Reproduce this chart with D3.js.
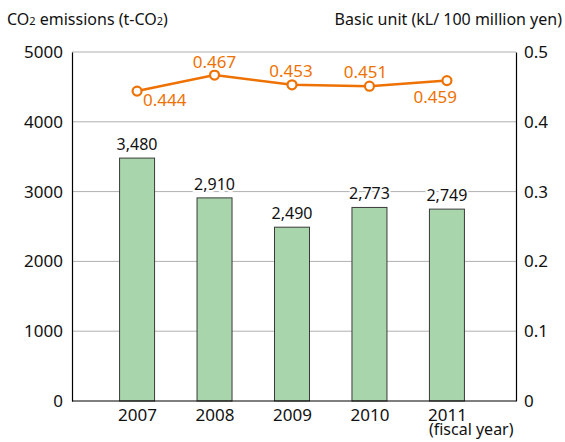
<!DOCTYPE html>
<html>
<head>
<meta charset="utf-8">
<script src="https://cdn.jsdelivr.net/npm/d3@7"></script>
<style>
  body { margin: 0; background: #fff; overflow: hidden; }
  svg { display: block; }
  text { font-family: "Noto Sans", "DejaVu Sans", sans-serif; }
</style>
</head>
<body>
<div id="chart"></div>
<script>
// data
const years = ['2007', '2008', '2009', '2010', '2011'];
const co2 = [3480, 2910, 2490, 2773, 2749];
const basicUnit = [0.444, 0.467, 0.453, 0.451, 0.459];
const leftTicks = [0, 1000, 2000, 3000, 4000, 5000];
const rightTicks = [0, 0.1, 0.2, 0.3, 0.4, 0.5];

const W = 565, H = 442;
const margin = { t: 52, r: 49, b: 41, l: 72 };
const innerWidth = W - margin.l - margin.r;
const innerHeight = H - margin.t - margin.b;

const svg = d3.select('#chart').append('svg')
  .attr('width', W)
  .attr('height', H);

const plot = svg.append('g')
  .attr('transform', `translate(${margin.l}, ${margin.t})`);

const x = d3.scalePoint().domain(years).range([0, innerWidth - 4]).padding(0.84);
const yL = d3.scaleLinear().domain([0, 5000]).range([innerHeight, 0]);
const yR = d3.scaleLinear().domain([0, 0.5]).range([innerHeight, 0]);

const barW = 35;
const orange = '#ee7203';

// gridlines
plot.selectAll('.grid')
  .data(leftTicks.filter(d => d > 0))
  .enter().append('line')
  .attr('x1', 0).attr('x2', innerWidth)
  .attr('y1', d => yL(d)).attr('y2', d => yL(d))
  .attr('stroke', '#b0b0b0')
  .attr('stroke-width', 1);

// bars
plot.selectAll('.bar')
  .data(co2)
  .enter().append('rect')
  .attr('x', (d, i) => x(years[i]) - barW / 2)
  .attr('y', d => yL(d))
  .attr('width', barW)
  .attr('height', d => innerHeight - yL(d))
  .attr('fill', '#a8d5ab')
  .attr('stroke', '#3a3a3a')
  .attr('stroke-width', 1);

plot.selectAll('.barlabel')
  .data(co2)
  .enter().append('text')
  .attr('x', (d, i) => x(years[i]))
  .attr('y', d => yL(d) - 8)
  .attr('text-anchor', 'middle')
  .attr('font-size', 16)
  .attr('fill', '#111')
  .attr('stroke', '#fff')
  .attr('stroke-width', 4)
  .attr('paint-order', 'stroke')
  .text(d => d3.format(',')(d));

// axes (line only, no ticks)
const axL = plot.append('g')
  .call(d3.axisLeft(yL).tickValues(leftTicks).tickSize(0).tickPadding(9).tickFormat(d3.format('d')));
const axR = plot.append('g').attr('transform', `translate(${innerWidth},0)`)
  .call(d3.axisRight(yR).tickValues(rightTicks).tickSize(0).tickPadding(8)
    .tickFormat(d => d === 0 ? '0' : d3.format('.1f')(d)));
const axB = plot.append('g').attr('transform', `translate(0,${innerHeight})`)
  .call(d3.axisBottom(x).tickSize(0).tickPadding(8));

[axL, axR, axB].forEach(ax => {
  ax.select('.domain').attr('stroke', '#000').attr('stroke-width', 1.2);
  ax.selectAll('text').attr('font-size', 17).attr('fill', '#111')
    .style('font-family', '"Noto Sans", sans-serif');
});
axB.select('.domain').attr('d', `M0,0H${innerWidth}`);

svg.append('text')
  .attr('x', margin.l + x('2011') - 18)
  .attr('y', 435)
  .attr('font-size', 16)
  .attr('fill', '#111')
  .text('(fiscal year)');

// line
const line = d3.line()
  .x((d, i) => x(years[i]))
  .y(d => yR(d));

plot.append('path')
  .datum(basicUnit)
  .attr('d', line)
  .attr('fill', 'none')
  .attr('stroke', orange)
  .attr('stroke-width', 2.5);

plot.selectAll('.dot')
  .data(basicUnit)
  .enter().append('circle')
  .attr('cx', (d, i) => x(years[i]))
  .attr('cy', d => yR(d))
  .attr('r', 4.5)
  .attr('fill', '#fff')
  .attr('stroke', orange)
  .attr('stroke-width', 2.2);

// label offsets for the line values
const lblPos = [
  { dx: 6, dy: 15, anchor: 'start' },
  { dx: 0, dy: -7, anchor: 'middle' },
  { dx: -1, dy: -8, anchor: 'middle' },
  { dx: -4, dy: -8, anchor: 'middle' },
  { dx: 10, dy: 22, anchor: 'end' }
];

plot.selectAll('.linelabel')
  .data(basicUnit)
  .enter().append('text')
  .attr('x', (d, i) => x(years[i]) + lblPos[i].dx)
  .attr('y', d => yR(d))
  .attr('dy', (d, i) => lblPos[i].dy)
  .attr('text-anchor', (d, i) => lblPos[i].anchor)
  .attr('font-size', 17)
  .attr('fill', orange)
  .attr('stroke', '#fff')
  .attr('stroke-width', 3)
  .attr('paint-order', 'stroke')
  .text(d => d3.format('.3f')(d));

// titles
const t1 = svg.append('text')
  .attr('x', 7).attr('y', 25)
  .attr('font-size', 16)
  .attr('fill', '#111');
t1.append('tspan').text('CO');
t1.append('tspan').attr('font-size', 11).text('2');
t1.append('tspan').text(' emissions (t-CO');
t1.append('tspan').attr('font-size', 11).text('2');
t1.append('tspan').text(')');

svg.append('text')
  .attr('x', 562).attr('y', 25)
  .attr('text-anchor', 'end')
  .attr('font-size', 16)
  .attr('fill', '#111')
  .text('Basic unit (kL/ 100 million yen)');
</script>
</body>
</html>
